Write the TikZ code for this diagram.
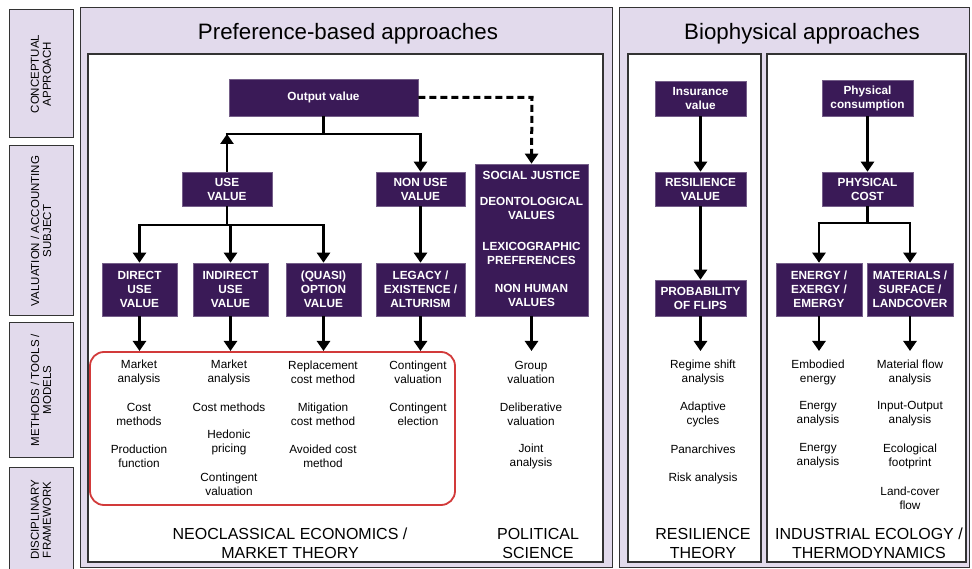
\documentclass[tikz,border=0pt]{standalone}
\usepackage{fontspec}
\setmainfont{Liberation Sans}
\usetikzlibrary{arrows.meta}
\definecolor{lav}{HTML}{E2DAEC}
\definecolor{dpurp}{HTML}{3A1A57}
\definecolor{redl}{HTML}{D23A3A}
\definecolor{edge}{HTML}{333333}
\tikzset{
  pbox/.style={draw=dpurp!70!white,line width=0.6pt,fill=dpurp,text=white,inner sep=1pt,align=center,
    font=\fontsize{11.8}{14}\selectfont\bfseries},
  ptext/.style={text=white,align=center,font=\fontsize{11.8}{14}\selectfont\bfseries,inner sep=0pt},
  tx/.style={align=center,font=\fontsize{11.8}{14}\selectfont,inner sep=0pt},
  foot/.style={align=center,font=\fontsize{16}{19}\selectfont,inner sep=0pt},
  ttl/.style={font=\fontsize{22.3}{25}\selectfont,inner sep=0pt},
  sidelab/.style={rotate=90,align=center,font=\fontsize{11.5}{12}\selectfont,inner sep=0pt},
  arr/.style={line width=2.8pt,-{Triangle[width=13pt,length=10pt]}},
  bar/.style={line width=2.8pt},
  dsh/.style={line width=3pt,dash pattern=on 7pt off 4pt,-{Triangle[width=13pt,length=10pt]}},
  panel/.style={draw=edge,line width=1pt,fill=lav},
  inner/.style={draw=edge,line width=1.2pt,fill=white},
}
\begin{document}
\begin{tikzpicture}[x=1pt,y=-1pt]
\useasboundingbox (0,0) rectangle (972,569);
% side labels
\draw[panel] (9,10) rectangle (73,138);
\draw[panel] (9,146) rectangle (73,316);
\draw[panel] (9,323) rectangle (73,457);
\fill[lav] (9,467) rectangle (73,569);
\draw[edge,line width=1pt] (9,572) -- (9,467) -- (73,467) -- (73,572);
\node[sidelab] (l1) at (41,74) {CONCEPTUAL\\APPROACH};
\node[sidelab] (l2) at (41,231) {VALUATION / ACCOUNTING\\SUBJECT};
\node[sidelab] (l3) at (41,390) {METHODS / TOOLS /\\MODELS};
\node[sidelab] (l4) at (41,520) {DISCIPLINARY\\FRAMEWORK};
% panels
\draw[panel] (80,8) rectangle (612,567);
\draw[inner] (88,54) rectangle (603,562);
\draw[panel] (619,8) rectangle (969,567);
\draw[inner] (628,54) rectangle (761,562);
\draw[inner] (767,54) rectangle (966,562);
\node[ttl] (t1) at (348,34) {Preference-based approaches};
\node[ttl] (t2) at (802,34) {Biophysical approaches};
% red rounded region
\draw[redl,line width=1.8pt,rounded corners=14pt] (90,352) rectangle (455,505);
% boxes
\node[pbox,minimum width=189pt,minimum height=37pt] (out) at (323.5,97.5) {Output value};
\node[pbox,minimum width=90pt,minimum height=34pt] (use) at (227,189) {USE\\VALUE};
\node[pbox,minimum width=89pt,minimum height=34pt] (nonuse) at (420.5,189) {NON USE\\VALUE};
\node[pbox,minimum width=113pt,minimum height=152pt] (soc) at (531.5,240) {};
\node[ptext] (soc1) at (531.5,175) {SOCIAL JUSTICE};
\node[ptext] (soc2) at (531.5,208) {DEONTOLOGICAL\\VALUES};
\node[ptext] (soc3) at (531.5,253.5) {LEXICOGRAPHIC\\PREFERENCES};
\node[ptext] (soc4) at (531.5,295.5) {NON HUMAN\\VALUES};
\node[pbox,minimum width=75pt,minimum height=53pt] (direct) at (139.5,289.5) {DIRECT\\USE\\VALUE};
\node[pbox,minimum width=75pt,minimum height=53pt] (indirect) at (230.5,289.5) {INDIRECT\\USE\\VALUE};
\node[pbox,minimum width=75pt,minimum height=53pt] (quasi) at (323.5,289.5) {(QUASI)\\OPTION\\VALUE};
\node[pbox,minimum width=89pt,minimum height=53pt] (legacy) at (420.5,289.5) {LEGACY /\\EXISTENCE /\\ALTURISM};
\node[pbox,minimum width=91pt,minimum height=35pt] (ins) at (700.5,98.5) {Insurance\\value};
\node[pbox,minimum width=91pt,minimum height=34pt] (resil) at (700.5,189) {RESILIENCE\\VALUE};
\node[pbox,minimum width=91pt,minimum height=36pt] (prob) at (700.5,298) {PROBABILITY\\OF FLIPS};
\node[pbox,minimum width=91pt,minimum height=36pt] (pcons) at (867.5,98) {Physical\\consumption};
\node[pbox,minimum width=91pt,minimum height=34pt] (pcost) at (867.5,189) {PHYSICAL\\COST};
\node[pbox,minimum width=86pt,minimum height=53pt] (energy) at (819,289.5) {ENERGY /\\EXERGY /\\EMERGY};
\node[pbox,minimum width=86pt,minimum height=53pt] (mat) at (910,289.5) {MATERIALS /\\SURFACE /\\LANDCOVER};
% junction coordinates
\coordinate (j1) at (323.5,134);
\coordinate (j2) at (227,225);
\coordinate (j3) at (867.5,223);
\coordinate (dj) at (532,97.5);
\coordinate (e1) at (139.5,351);
\coordinate (e2) at (230.5,351);
\coordinate (e3) at (323.5,351);
\coordinate (e4) at (420.5,351);
\coordinate (e5) at (531.5,351);
\coordinate (e6) at (700.5,351);
\coordinate (e7) at (819,351);
\coordinate (e8) at (910,351);
% connectors
\draw[bar] (out.south) -- (j1);
\draw[arr] (use.north) -- (use.north |- j1);
\draw[bar] ([xshift=-1.4pt]use.north |- j1) -- ([xshift=1.4pt]nonuse.north |- j1);
\draw[arr] (nonuse.north |- j1) -- (nonuse.north);
\draw[dsh] (out.east) -- (dj) -- (soc.north);
\draw[bar] (use.south) -- (j2);
\draw[bar] ([xshift=-1.4pt]direct.north |- j2) -- ([xshift=1.4pt]quasi.north |- j2);
\draw[arr] (direct.north |- j2) -- (direct.north);
\draw[arr] (indirect.north |- j2) -- (indirect.north);
\draw[arr] (quasi.north |- j2) -- (quasi.north);
\draw[arr] (nonuse.south) -- (legacy.north);
\draw[arr] (direct.south) -- (e1);
\draw[arr] (indirect.south) -- (e2);
\draw[arr] (quasi.south) -- (e3);
\draw[arr] (legacy.south) -- (e4);
\draw[arr] (soc.south) -- (e5);
\draw[arr] (ins.south) -- (resil.north);
\draw[arr] (resil.south) -- (prob.north);
\draw[arr] (prob.south) -- (e6);
\draw[arr] (pcons.south) -- (pcost.north);
\draw[bar] (pcost.south) -- (j3);
\draw[bar] ([xshift=-1.4pt]energy.north |- j3) -- ([xshift=1.4pt]mat.north |- j3);
\draw[arr] (energy.north |- j3) -- (energy.north);
\draw[arr] (mat.north |- j3) -- (mat.north);
\draw[arr] (energy.south) -- (e7);
\draw[arr] (mat.south) -- (e8);
% method texts
\node[tx] (a1) at (139,372) {Market\\analysis};
\node[tx] (a2) at (139,414) {Cost\\methods};
\node[tx] (a3) at (139,456) {Production\\function};
\node[tx] (b1) at (229,372) {Market\\analysis};
\node[tx] (b2) at (229,407) {Cost methods};
\node[tx] (b3) at (229,442) {Hedonic\\pricing};
\node[tx] (b4) at (229,484) {Contingent\\valuation};
\node[tx] (c1) at (323,372) {Replacement\\cost method};
\node[tx] (c2) at (323,414) {Mitigation\\cost method};
\node[tx] (c3) at (323,456) {Avoided cost\\method};
\node[tx] (d1) at (418,372) {Contingent\\valuation};
\node[tx] (d2) at (418,414) {Contingent\\election};
\node[tx] (f1) at (531,372) {Group\\valuation};
\node[tx] (f2) at (531,414) {Deliberative\\valuation};
\node[tx] (f3) at (531,456) {Joint\\analysis};
\node[tx] (g1) at (703,372) {Regime shift\\analysis};
\node[tx] (g2) at (703,414) {Adaptive\\cycles};
\node[tx] (g3) at (703,449) {Panarchives};
\node[tx] (g4) at (703,478) {Risk analysis};
\node[tx] (h1) at (818,372) {Embodied\\energy};
\node[tx] (h2) at (818,414) {Energy\\analysis};
\node[tx] (h3) at (818,456) {Energy\\analysis};
\node[tx] (i1) at (910,372) {Material flow\\analysis};
\node[tx] (i2) at (910,414) {Input-Output\\analysis};
\node[tx] (i3) at (910,456) {Ecological\\footprint};
\node[tx] (i4) at (910,498) {Land-cover\\flow};
% footers
\node[foot] (n1) at (290,543.5) {NEOCLASSICAL ECONOMICS /\\MARKET THEORY};
\node[foot] (n2) at (538,543.5) {POLITICAL\\SCIENCE};
\node[foot] (n3) at (703,543.5) {RESILIENCE\\THEORY};
\node[foot] (n4) at (869,543.5) {INDUSTRIAL ECOLOGY /\\THERMODYNAMICS};
\end{tikzpicture}
\end{document}
